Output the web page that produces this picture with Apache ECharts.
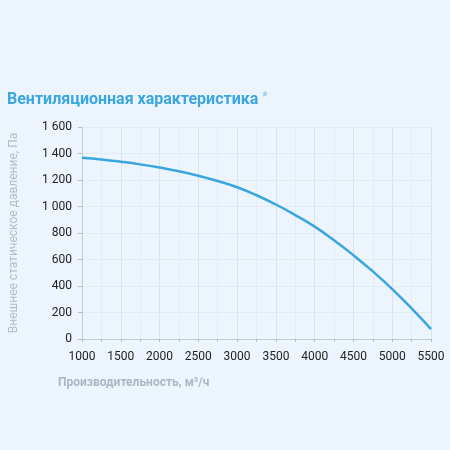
<!DOCTYPE html>
<html>
<head>
<meta charset="utf-8">
<script src="https://cdn.jsdelivr.net/npm/echarts@6/dist/echarts.min.js"></script>
<style>
html,body{margin:0;padding:0;background:#ecf5fd;}
#chart{width:450px;height:450px;}
</style>
</head>
<body>
<div id="chart"></div>
<script>
// расход, м3/ч и давление, Па
var flow = [1000, 1250, 1500, 1750, 2000, 2250, 2500, 2750, 3000, 3250, 3500, 3750, 4000, 4250, 4500, 4750, 5000, 5250, 5500];
var pressure = [1368, 1355, 1338, 1318, 1294, 1266, 1232, 1192, 1145, 1085, 1015, 935, 848, 745, 632, 510, 377, 231, 75];
var xTicks = [1000, 1500, 2000, 2500, 3000, 3500, 4000, 4500, 5000, 5500];
var yTicks = [0, 200, 400, 600, 800, 1000, 1200, 1400, 1600];

var points = flow.map(function(f, i){ return [f, pressure[i]]; });

var chart = echarts.init(document.getElementById('chart'));
chart.setOption({
    backgroundColor: '#ecf5fd',
    title: {
        text: 'Вентиляционная характеристика {s|*}',
        left: 2,
        top: 86,
        textStyle: {
            fontFamily: 'Roboto',
            fontSize: 16,
            fontWeight: 'bold',
            color: '#3aa6e0',
            rich: {
                s: {fontSize: 12, color: '#8ccbef', verticalAlign: 'top', padding: [0, 0, 6, 0]}
            }
        }
    },
    grid: {left: 77, right: 19, top: 127, bottom: 111},
    xAxis: {
        type: 'value',
        min: xTicks[0],
        max: xTicks[xTicks.length - 1],
        interval: 500,
        name: 'Производительность, м³/ч',
        nameLocation: 'start',
        nameGap: 0,
        nameTextStyle: {
            color: '#a9b7c4', fontFamily: 'Roboto', fontSize: 12, fontWeight: 'bold',
            align: 'left', verticalAlign: 'top', padding: [38, 0, 0, -24]
        },
        axisLine: {lineStyle: {color: '#c4cbd2'}},
        axisTick: {show: true, length: 3, lineStyle: {color: '#b5bcc4'}},
        minorTick: {show: true, splitNumber: 2, length: 3, lineStyle: {color: '#b5bcc4'}},
        axisLabel: {
            color: '#222', fontFamily: 'Roboto', fontSize: 12, margin: 12,
            formatter: function(v){ return String(v); }
        },
        splitLine: {show: true, lineStyle: {color: '#d9e3ec'}},
        minorSplitLine: {show: true, lineStyle: {color: '#e4ecf3'}}
    },
    yAxis: {
        type: 'value',
        min: yTicks[0],
        max: yTicks[yTicks.length - 1],
        interval: 200,
        name: 'Внешнее статическое давление, Па',
        nameLocation: 'middle',
        nameGap: 62,
        nameTextStyle: {color: '#b0bdc9', fontFamily: 'Roboto', fontSize: 12},
        axisLine: {show: true, lineStyle: {color: '#c4cbd2'}},
        axisTick: {show: true, length: 4, lineStyle: {color: '#b5bcc4'}},
        axisLabel: {
            color: '#222', fontFamily: 'Roboto', fontSize: 12, margin: 10,
            formatter: function(v){ return v >= 1000 ? Math.floor(v / 1000) + ' ' + String(v % 1000).padStart(3, '0') : String(v); }
        },
        splitLine: {show: true, lineStyle: {color: '#e2eaf2'}}
    },
    series: [{
        type: 'line',
        data: points,
        smooth: 0.5,
        symbol: 'none',
        lineStyle: {color: '#3aa6de', width: 2.5}
    }]
});
</script>
</body>
</html>
